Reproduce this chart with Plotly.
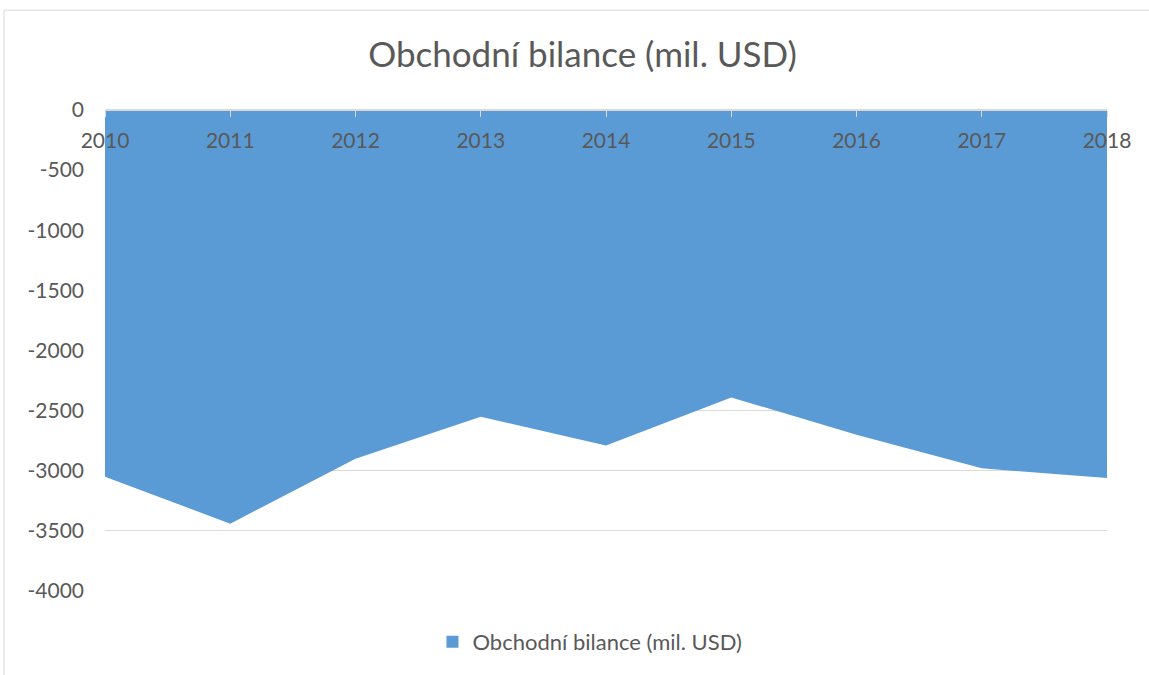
import plotly.graph_objects as go

years = ["2010", "2011", "2012", "2013", "2014", "2015", "2016", "2017", "2018"]
balance = [-3050, -3440, -2900, -2550, -2790, -2390, -2700, -2980, -3060]
y_ticks = [0, -500, -1000, -1500, -2000, -2500, -3000, -3500, -4000]
series_name = "Obchodní bilance (mil. USD)"

FONT = "Lato"
TXT = "#595959"
FILL = "#5b9bd5"

fig = go.Figure()
fig.add_trace(go.Scatter(
    x=list(range(len(years))), y=balance, name=series_name,
    mode="lines", fill="tozeroy", fillcolor=FILL,
    line=dict(width=0, color=FILL), showlegend=False, hoverinfo="skip",
))
# legend entry with a square swatch, like the original
fig.add_trace(go.Bar(x=[None], y=[None], name=series_name,
                     marker=dict(color=FILL, line=dict(width=0)), showlegend=True))

fig.update_layout(
    width=1149, height=675,
    margin=dict(l=105, r=42, t=110, b=81),
    paper_bgcolor="white", plot_bgcolor="white",
    font=dict(family=FONT, color=TXT, size=21),
    title=dict(text=series_name, x=0.507, xanchor="center", y=1 - 55 / 675, yanchor="middle",
               font=dict(family=FONT, size=35, color=TXT)),
    xaxis=dict(
        range=[0, len(years) - 1],
        tickmode="array", tickvals=list(range(len(years))), ticktext=years,
        showgrid=False, zeroline=False,
        showline=True, linecolor="#d9d9d9", linewidth=2,
        ticks="outside", ticklen=6, tickcolor="#d9d9d9",
        anchor="free", position=1, side="bottom", ticklabelstandoff=6,
        tickfont=dict(family=FONT, size=21, color=TXT),
        layer="above traces",
    ),
    yaxis=dict(
        range=[-4000, 0], tickmode="array", tickvals=y_ticks,
        ticktext=[str(v) for v in y_ticks],
        showgrid=True, gridcolor="#d9d9d9", gridwidth=1,
        zeroline=False, showline=False, ticks="", ticklabelstandoff=20,
        tickfont=dict(family=FONT, size=21, color=TXT),
    ),
    legend=dict(orientation="h", x=0.484, xanchor="center", y=-0.106, yanchor="middle",
                font=dict(family=FONT, size=22, color=TXT)),
    shapes=[dict(type="rect", xref="paper", yref="paper",
                 x0=-0.1008, x1=1.1, y0=-0.3, y1=1.2075,
                 line=dict(color="#d9d9d9", width=1), fillcolor="rgba(0,0,0,0)",
                 layer="below")],
)

fig.write_html("out.html", config={"displayModeBar": False},
               post_script="document.body.style.margin='0';")
